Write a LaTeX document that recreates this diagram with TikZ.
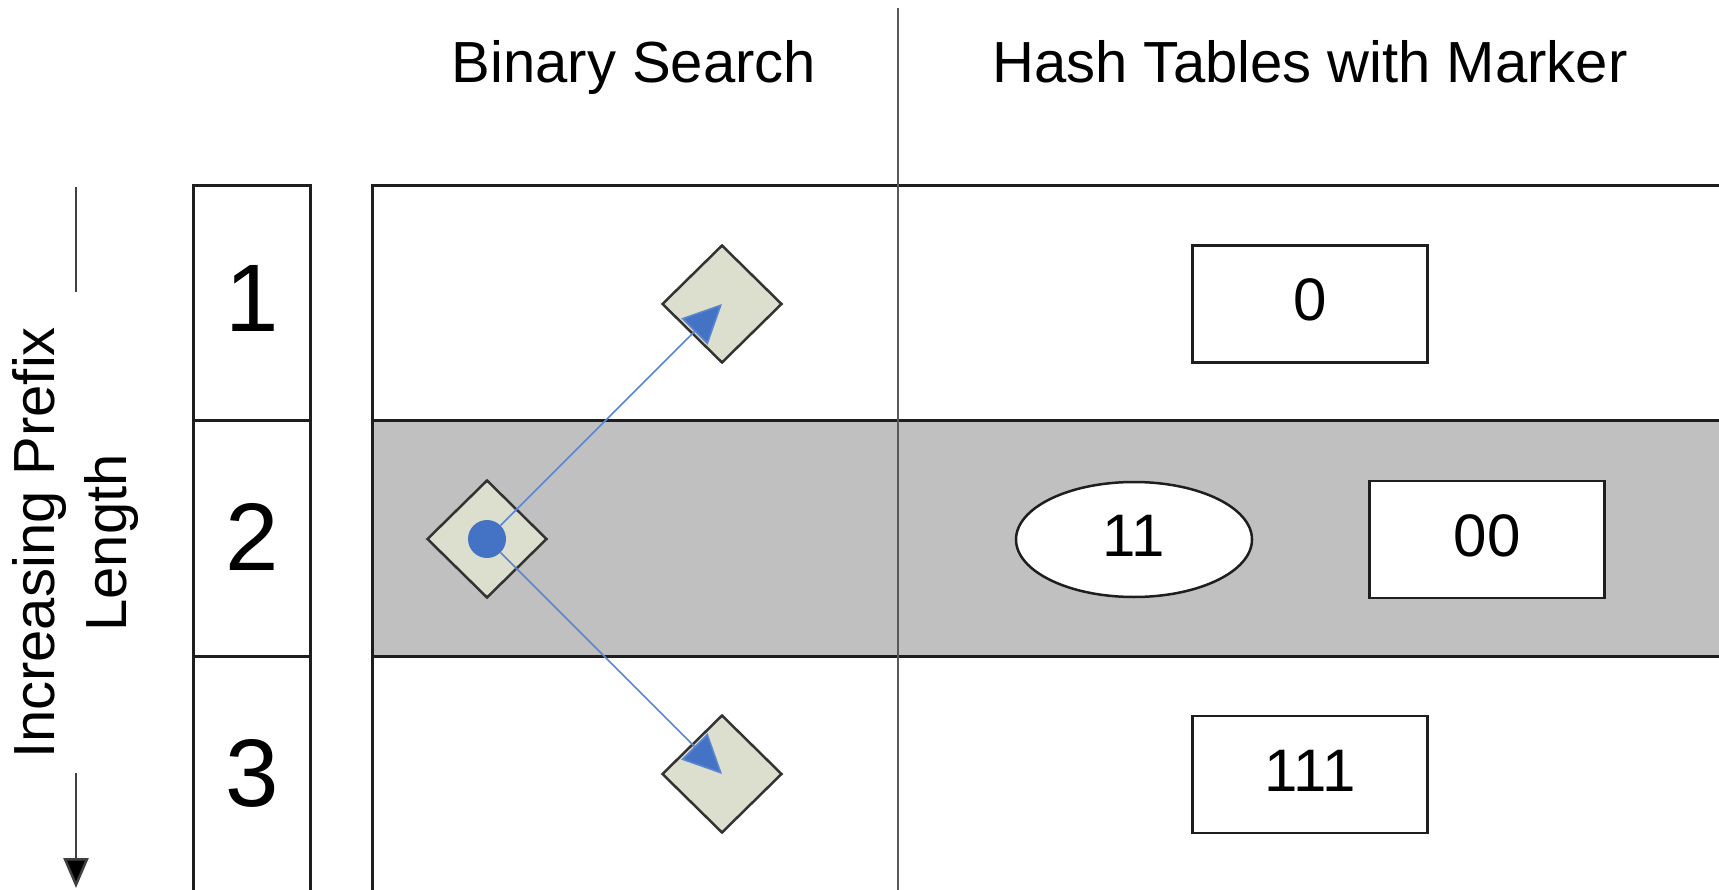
\documentclass[tikz,border=0pt]{standalone}
\usepackage{fontspec}
\setmainfont{Liberation Sans}
\usetikzlibrary{shapes.geometric,arrows.meta}
\definecolor{tilefill}{HTML}{DDDFCE}
\definecolor{markblue}{HTML}{4472C4}
\definecolor{jumpblue}{HTML}{5A86D0}
\definecolor{bandgrey}{HTML}{C0C0C0}
\definecolor{rule}{HTML}{1E1E1E}
\begin{document}
\begin{tikzpicture}[x=1pt,y=-1pt,
  gridline/.style={draw=rule,line width=3pt},
  divider/.style={draw=black!65,line width=2pt},
  axisline/.style={draw=black!75,line width=2.5pt},
  header/.style={font=\fontsize{58}{70}\selectfont,anchor=base,inner sep=0pt},
  rownum/.style={font=\fontsize{96}{110}\selectfont,anchor=base,inner sep=0pt},
  probe/.style={diamond,draw=black!80,line width=2.5pt,fill=tilefill,
    minimum width=120pt,minimum height=118pt,inner sep=0pt},
  hit/.style={circle,fill=markblue,minimum size=38pt,inner sep=0pt},
  jump/.style={draw=jumpblue,line width=1.6pt,
    -{Triangle[length=39pt,width=37pt,fill=markblue]}},
  cell/.style={draw=rule,line width=2.5pt,fill=white,
    font=\fontsize{60}{72}\selectfont,text height=43pt,text depth=9pt,inner sep=0pt},
  entry/.style={cell,rectangle,minimum width=235pt,minimum height=117pt},
  marker/.style={cell,ellipse,minimum width=236pt,minimum height=115pt}
]
\useasboundingbox (0,0) rectangle (1719,890);

% shaded middle row of the table
\fill[bandgrey] (372,421) rectangle (1760,656);

% row-number column
\draw[gridline] (193,1000) -- (193,186) -- (310,186) -- (310,1000);
\draw[gridline] (193,421) -- (310,421);
\draw[gridline] (193,656) -- (310,656);

% main table
\draw[gridline] (372,1000) -- (372,186) -- (1760,186);
\draw[gridline] (372,421) -- (1760,421);
\draw[gridline] (372,656) -- (1760,656);
\draw[divider] (898,8) -- (898,1000);

% column headers
\node[header] (hbs) at (634,83) {Binary Search};
\node[header] (hht) at (1310,83) {Hash Tables with Marker};

% row numbers
\node[rownum] (n1) at (252,332) {1};
\node[rownum] (n2) at (252,570) {2};
\node[rownum] (n3) at (252,806) {3};

% axis label and arrow
\node[font=\fontsize{58}{72}\selectfont,align=center,rotate=90,inner sep=0pt]
  (axis) at (76,543) {Increasing Prefix\\Length};
\coordinate (ax0) at (76,187);
\coordinate (ax1) at (76,292);
\coordinate (ax2) at (76,773);
\coordinate (ax3) at (76,888);
\draw[axisline] (ax0) -- (ax1);
\draw[axisline,-{Triangle[length=30pt,width=25pt,fill=black]}] (ax2) -- (ax3);

% binary search probes
\node[probe] (p1) at (722,304) {};
\node[probe] (p2) at (487,539) {};
\node[probe] (p3) at (722,774) {};
\node[hit] (dot) at (p2.center) {};
\draw[jump] (dot) -- (p1.center);
\draw[jump] (dot) -- (p3.center);

% hash table entries
\node[entry] (h0) at (1310,304) {0};
\node[marker] (h11) at (1134,539.5) {11};
\node[entry] (h00) at (1487,539.5) {00};
\node[entry] (h111) at (1310,774.5) {111};
\end{tikzpicture}
\end{document}
